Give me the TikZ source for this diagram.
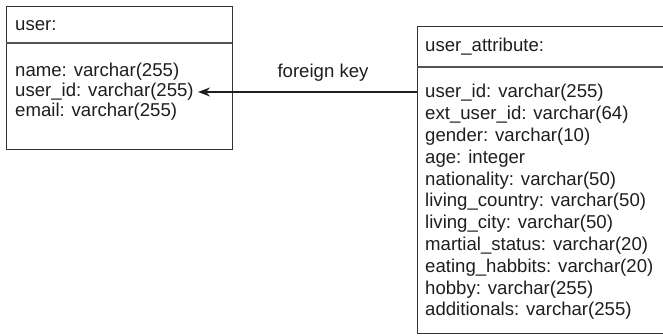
\documentclass[tikz,border=0pt]{standalone}
\usepackage{fontspec}
\setmainfont{Liberation Sans}
\usetikzlibrary{arrows.meta}
\definecolor{frame}{HTML}{333333}
\definecolor{ink}{HTML}{1E1E1E}
\tikzset{
  table/.style={draw=frame, line width=1.3pt, anchor=north west, inner sep=0pt},
  rule/.style={draw=frame!85, line width=1.1pt},
  field/.style={anchor=west, inner sep=0pt, text=ink, font=\fontsize{18.6}{21.8}\selectfont},
  fk/.style={draw=ink, line width=1.3pt, -{Stealth[length=12pt, width=9pt]}},
}
\begin{document}
\begin{tikzpicture}[x=1pt, y=1pt]
\useasboundingbox (0,0) rectangle (663,-336);
% table: user
\node[table, minimum width=226pt, minimum height=143pt] (user) at (6,-6) {};
\draw[rule] (6,-43) -- (232,-43);
\node[field] (userhead) at (15,-26) {user:};
\node[field] (uname) at (15,-72) {name: varchar(255)};
\node[field] (uid) at (15,-92) {user\_id: varchar(255)};
\node[field] (umail) at (15,-112) {email: varchar(255)};
% table: user_attribute (right side runs past the page edge)
\begin{scope}
\clip (0,0) rectangle (663,-336);
\node[table, minimum width=260pt, minimum height=307pt] (attr) at (417,-26) {};
\draw[rule] (417,-67) -- (677,-67);
\end{scope}
\node[field] (attrhead) at (425,-47) {user\_attribute:};
\foreach \t [count=\i from 0] in {
  user\_id: varchar(255),
  ext\_user\_id: varchar(64),
  gender: varchar(10),
  age: integer,
  nationality: varchar(50),
  living\_country: varchar(50),
  living\_city: varchar(50),
  martial\_status: varchar(20),
  eating\_habbits: varchar(20),
  hobby: varchar(255),
  additionals: varchar(255)}
  \node[field] (a\i) at (425,-93-21.8*\i) {\t};
% foreign key connector
\coordinate (fkend) at (198,-92);
\draw[fk] (attr.west |- fkend) -- (fkend);
\node[field, anchor=center] (fklabel) at (323,-73) {foreign key};
\end{tikzpicture}
\end{document}
